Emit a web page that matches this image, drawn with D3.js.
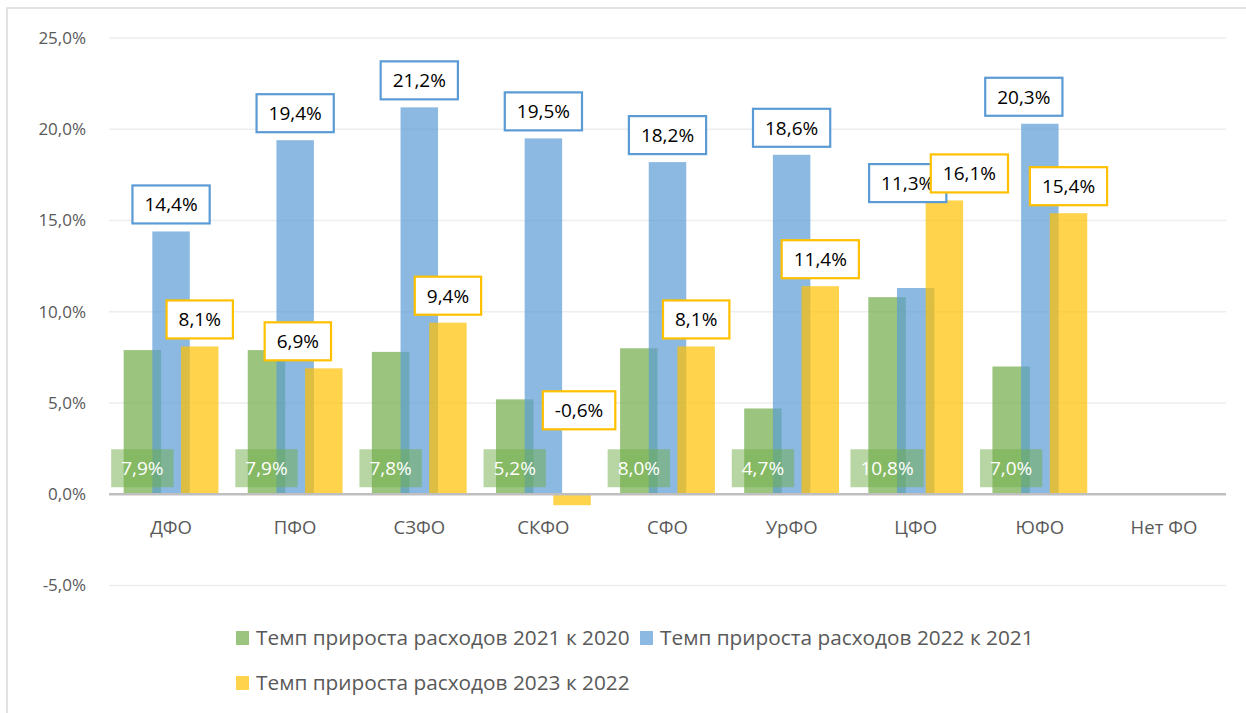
<!DOCTYPE html>
<html>
<head>
<meta charset="utf-8">
<script src="https://cdn.jsdelivr.net/npm/d3@7/dist/d3.min.js"></script>
<style>
  html, body { margin: 0; padding: 0; background: #fff; }
  svg { display: block; }
  text { font-family: "Open Sans", "Noto Sans", sans-serif; }
</style>
</head>
<body>
<svg id="chart" width="1246" height="713"></svg>
<script>
// ---- data ----
const categories = ["ДФО", "ПФО", "СЗФО", "СКФО", "СФО", "УрФО", "ЦФО", "ЮФО", "Нет ФО"];
const seriesNames = [
  "Темп прироста расходов 2021 к 2020",
  "Темп прироста расходов 2022 к 2021",
  "Темп прироста расходов 2023 к 2022"
];
const growth2021 = [7.9, 7.9, 7.8, 5.2, 8.0, 4.7, 10.8, 7.0, null];
const growth2022 = [14.4, 19.4, 21.2, 19.5, 18.2, 18.6, 11.3, 20.3, null];
const growth2023 = [8.1, 6.9, 9.4, -0.6, 8.1, 11.4, 16.1, 15.4, null];
const yTicks = [-5, 0, 5, 10, 15, 20, 25];

// ---- styling / layout ----
const baseColors = ["#70AD47", "#5B9BD5", "#FFC000"];
const barOpacity = 0.7;
const svg = d3.select("#chart");
const W = 1246, H = 713;
const plot = { left: 109, right: 1226, top: 38, bottom: 585.5 };
const labelFont = 19;

// chart border
svg.append("rect").attr("x", 7).attr("y", 8).attr("width", W + 10).attr("height", H + 10)
  .attr("fill", "none").attr("stroke", "#d9d9d9").attr("stroke-width", 1.5);

const x = d3.scaleBand().domain(categories).range([plot.left, plot.right]).padding(0);
const y = d3.scaleLinear().domain([-5, 25]).range([plot.bottom, plot.top]);
const bw = x.bandwidth();
const barW = bw * 0.302;
const step = bw * 0.231;
const fmt = v => d3.format(".1f")(v).replace(".", ",").replace("\u2212", "-") + "%";

// gridlines
svg.append("g").selectAll("line").data(yTicks.filter(t => t !== 0)).join("line")
  .attr("x1", plot.left).attr("x2", plot.right)
  .attr("y1", d => y(d)).attr("y2", d => y(d))
  .attr("stroke", "#ededed").attr("stroke-width", 1.5);

// y axis
const yAxis = d3.axisLeft(y).tickValues(yTicks).tickSize(0).tickPadding(0).tickFormat(fmt);
const yg = svg.append("g").attr("transform", `translate(86,0)`).call(yAxis);
yg.select(".domain").remove();
yg.selectAll("text").attr("fill", "#595959").style("font-size", "17px")
  .style("font-family", "'Open Sans', sans-serif");

const series = [growth2021, growth2022, growth2023];

// bars
series.forEach((vals, si) => {
  svg.append("g").selectAll("rect")
    .data(categories.map((c, i) => ({ c, v: vals[i] })).filter(d => d.v != null))
    .join("rect")
    .attr("x", d => x(d.c) + bw / 2 + (si - 1) * step - barW / 2)
    .attr("width", barW)
    .attr("y", d => y(Math.max(0, d.v)))
    .attr("height", d => Math.abs(y(d.v) - y(0)))
    .attr("fill", baseColors[si])
    .attr("fill-opacity", barOpacity);
});

// zero line
svg.append("line").attr("x1", plot.left).attr("x2", plot.right)
  .attr("y1", y(0)).attr("y2", y(0)).attr("stroke", "#bfbfbf").attr("stroke-width", 2.5);

// x axis labels
const xAxis = d3.axisBottom(x).tickSize(0).tickPadding(0);
const xg = svg.append("g").attr("transform", `translate(0,${y(0) + 33})`).call(xAxis);
xg.select(".domain").remove();
xg.selectAll("text").attr("fill", "#595959").style("font-size", "18.5px")
  .style("font-family", "'Open Sans', sans-serif").attr("dy", "0.35em");

// data labels
const measure = svg.append("text").style("font-size", labelFont + "px").attr("visibility", "hidden");
function textW(s) { measure.text(s); return measure.node().getComputedTextLength(); }

// manual label adjustments (dx in px, yc = centre in value units)
const labelAdjust = {
  "1|ЦФО": { dx: -8, yc: 17.05 },
  "2|ЦФО": { dx: 25 },
  "2|ПФО": { dx: -26 },
  "1|ЮФО": { dx: -16 },
  "2|СКФО": { dx: 7, yc: 4.6 }
};

const boxH = 38;
series.forEach((vals, si) => {
  const g = svg.append("g");
  categories.forEach((c, i) => {
    const v = vals[i];
    if (v == null) return;
    const cx0 = x(c) + bw / 2 + (si - 1) * step;
    const label = fmt(v);
    const tw = textW(label);
    const adj = labelAdjust[si + "|" + c] || {};
    let cx = cx0 + (adj.dx || 0);
    let cy;
    if (si === 0) {
      cy = y(0) - 7 - boxH / 2;
      const bwid = tw + 20;
      g.append("rect").attr("x", cx - bwid / 2).attr("y", cy - boxH / 2)
        .attr("width", bwid).attr("height", boxH)
        .attr("fill", baseColors[0]).attr("fill-opacity", 0.5);
      g.append("text").attr("x", cx).attr("y", cy).attr("dy", "0.36em")
        .attr("text-anchor", "middle").attr("fill", "#ffffff").style("font-size", labelFont + "px").text(label);
    } else {
      if (adj.yc != null) cy = y(adj.yc);
      else cy = y(Math.max(0, v)) - 8 - boxH / 2;
      const bwid = tw + 24;
      g.append("rect").attr("x", cx - bwid / 2).attr("y", cy - boxH / 2)
        .attr("width", bwid).attr("height", boxH)
        .attr("fill", "#ffffff").attr("stroke", baseColors[si]).attr("stroke-width", 2.2);
      g.append("text").attr("x", cx).attr("y", cy).attr("dy", "0.36em")
        .attr("text-anchor", "middle").attr("fill", "#000000").style("font-size", labelFont + "px").text(label);
    }
  });
});

// legend
const legendItems = [
  { name: seriesNames[0], color: baseColors[0], x: 236, y: 638 },
  { name: seriesNames[1], color: baseColors[1], x: 640, y: 638 },
  { name: seriesNames[2], color: baseColors[2], x: 236, y: 683 }
];
const lg = svg.append("g");
legendItems.forEach(it => {
  lg.append("rect").attr("x", it.x).attr("y", it.y - 7).attr("width", 13).attr("height", 14)
    .attr("fill", it.color).attr("fill-opacity", barOpacity);
  lg.append("text").attr("x", it.x + 20).attr("y", it.y).attr("dy", "0.36em")
    .attr("fill", "#595959").style("font-size", "20.8px").text(it.name);
});
</script>
</body>
</html>
